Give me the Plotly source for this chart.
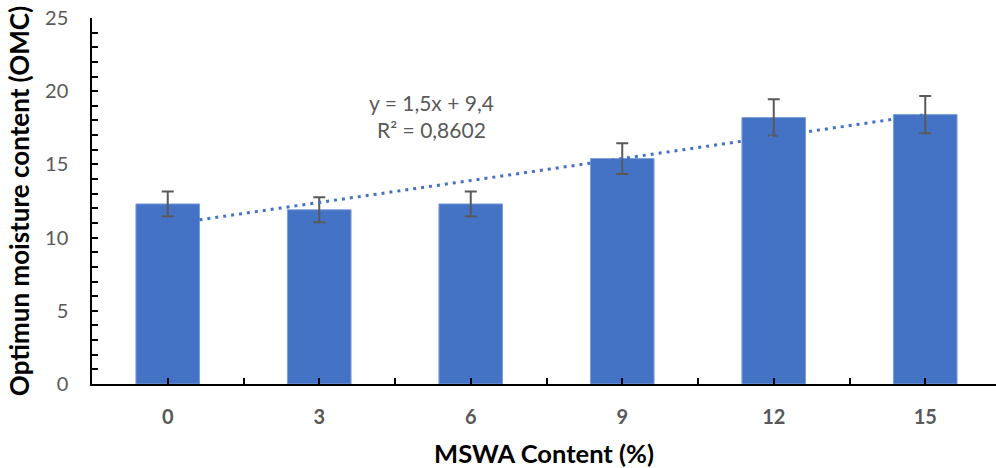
import plotly.graph_objects as go

# MSWA content levels (%) and measured optimum moisture content
categories = ["0", "3", "6", "9", "12", "15"]
omc_values = [12.3, 11.9, 12.3, 15.4, 18.2, 18.4]
omc_errors = [0.85, 0.85, 0.85, 1.05, 1.25, 1.27]

# Linear trendline (index-based x, 1..n) and its fit statistics
trend_slope = 1.5
trend_intercept = 9.4
trend_r2 = "0,8602"

y_ticks = [0, 5, 10, 15, 20, 25]

BAR_BLUE = "#4472C4"
GREY = "#595959"
FONT = "Lato"

positions = list(range(len(categories)))
trend_x = [positions[0], positions[-1]]
trend_y = [trend_slope * (p + 1) + trend_intercept for p in trend_x]

fig = go.Figure()

# dotted trendline sits behind the bars
fig.add_trace(go.Scatter(
    x=trend_x, y=trend_y, mode="lines",
    line=dict(color=BAR_BLUE, width=3, dash="3px,5px"),
    hoverinfo="skip", showlegend=False,
))

fig.add_trace(go.Bar(
    x=positions, y=omc_values, width=0.42,
    marker=dict(color=BAR_BLUE, line=dict(color="#7F9FD8", width=1)),
    error_y=dict(type="data", array=omc_errors, visible=True,
                 color=GREY, thickness=2, width=6),
    showlegend=False,
))

fig.add_annotation(
    x=1.743, y=18.34, xref="x", yref="y",
    text=f"y = {trend_slope:.1f}x + {trend_intercept:.1f}".replace(".", ",")
         + f"<br>R² = {trend_r2}",
    showarrow=False, align="center",
    font=dict(family=FONT, size=21, color=GREY),
)

fig.update_layout(
    width=996, height=468,
    margin=dict(l=92, r=0, t=18, b=84),
    paper_bgcolor="white", plot_bgcolor="white",
    font=dict(family=FONT),
)

fig.update_xaxes(
    range=[-0.5, 5.467],
    tickmode="array", tickvals=positions, ticktext=categories,
    ticks="inside", ticklen=6, tickwidth=1.5, tickcolor="black",
    minor=dict(ticks="inside", ticklen=6, tickwidth=1.5, tickcolor="black",
               tickmode="array", tickvals=[p + 0.5 for p in positions]),
    showline=True, linecolor="black", linewidth=1.5,
    showgrid=False, zeroline=False,
    tickfont=dict(family=FONT, size=20, color=GREY, weight="bold"),
    ticklabelstandoff=14,
    title=dict(text="<b>MSWA Content (%)</b>",
               font=dict(family=FONT, size=25.5, color="black"), standoff=18),
)

fig.update_yaxes(
    range=[0, 25],
    tickmode="array", tickvals=y_ticks,
    ticks="inside", ticklen=6, tickwidth=1.5, tickcolor="black",
    minor=dict(ticks="inside", ticklen=6, tickwidth=1.5, tickcolor="black", dtick=1),
    showline=True, linecolor="black", linewidth=1.5,
    showgrid=False, zeroline=False,
    tickfont=dict(family=FONT, size=20, color=GREY),
    ticklabelstandoff=18,
    title=dict(text="<b>Optimun moisture content (OMC)</b>",
               font=dict(family=FONT, size=26, color="black"), standoff=8),
)

fig.write_html("out.html")
